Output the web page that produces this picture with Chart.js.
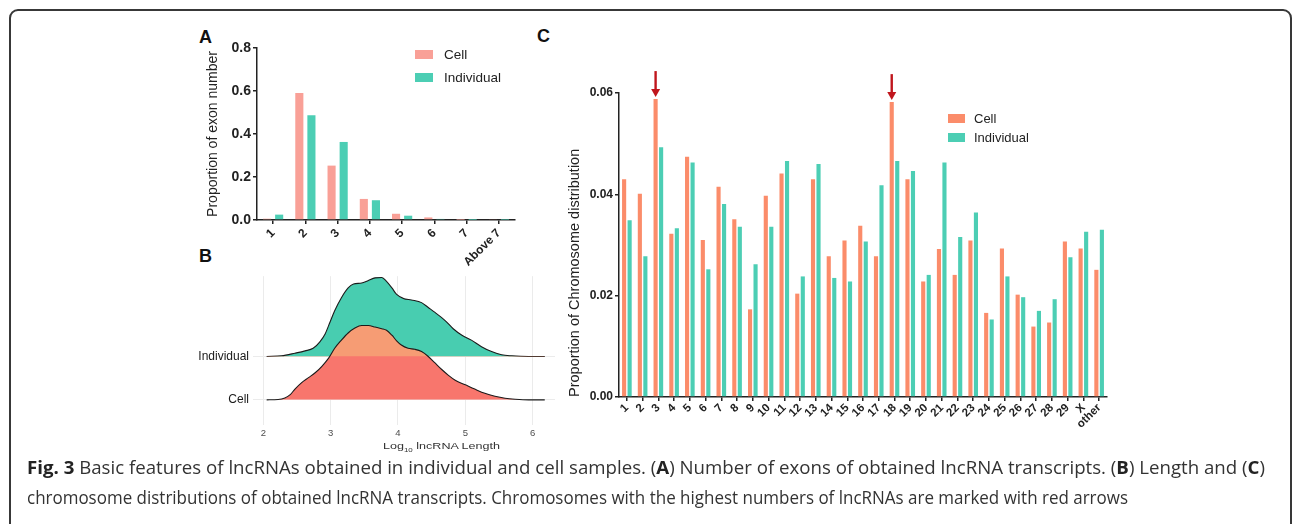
<!DOCTYPE html>
<html><head><meta charset="utf-8">
<script src="https://cdn.jsdelivr.net/npm/chart.js@4/dist/chart.umd.min.js"></script>
<style>
html,body{margin:0;padding:0;background:#fff;width:1292px;height:524px;overflow:hidden;font-family:"Liberation Sans",Arial,sans-serif;}
canvas{position:absolute;}
.frame{position:absolute;left:9px;top:9px;width:1283px;height:700px;border:2px solid #383838;border-radius:9px;box-sizing:border-box;}
.plabel{position:absolute;font:bold 18px "Liberation Sans",Arial,sans-serif;color:#111;line-height:20px;}
.cap{position:absolute;left:27px;font-family:"Open Sans",sans-serif;font-size:18.5px;color:#333;white-space:nowrap;transform-origin:0 0;line-height:24px;}
.cap b{color:#222;}
.fit{position:absolute;white-space:nowrap;transform-origin:0 0;}
.btitle{left:383px;top:440px;font:9.5px "Liberation Sans",Arial,sans-serif;color:#333;}
.btitle sub{font-size:6px;}
</style></head><body>
<div class="frame"></div>
<div class="plabel" style="left:199px;top:27px">A</div>
<div class="plabel" style="left:199px;top:246px">B</div>
<div class="plabel" style="left:537px;top:26px">C</div>
<canvas id="cA" width="340" height="245" style="left:195px;top:25px;width:340px;height:245px"></canvas>
<canvas id="cB" width="360" height="190" style="left:195px;top:265px;width:360px;height:190px"></canvas>
<canvas id="cC" width="558" height="380" style="left:562px;top:60px;width:558px;height:380px"></canvas>
<div class="fit btitle" data-w="117">Log<sub>10</sub> lncRNA Length</div>
<div class="cap fit" data-w="1238" style="top:455px"><b>Fig. 3</b> Basic features of lncRNAs obtained in individual and cell samples. (<b>A</b>) Number of exons of obtained lncRNA transcripts. (<b>B</b>) Length and (<b>C</b>)</div>
<div class="cap fit" data-w="1101" style="top:485px">chromosome distributions of obtained lncRNA transcripts. Chromosomes with the highest numbers of lncRNAs are marked with red arrows</div>
<script>
// ---------- DATA ----------
// Panel A: exon number
const exonCats = ['1','2','3','4','5','6','7','Above 7'];
const exonCell = [0.006,0.591,0.253,0.098,0.029,0.012,0.001,0.003];
const exonInd  = [0.025,0.487,0.363,0.092,0.020,0.005,0.0005,0.001];
const exonTicks = [0,0.2,0.4,0.6,0.8];

// Panel B: length density (ridgeline)
const ridgeNames = ['Cell','Individual'];
const indX = [2.05,2.27,2.47,2.62,2.74,2.84,2.92,2.99,3.06,3.16,3.26,3.34,3.46,3.56,3.66,3.76,3.83,3.91,3.98,4.08,4.20,4.35,4.45,4.55,4.70,4.82,4.95,5.09,5.24,5.39,5.54,5.69,5.94,6.18];
const indH = [0,0.015,0.075,0.128,0.188,0.338,0.526,0.789,1.053,1.353,1.579,1.669,1.692,1.752,1.812,1.820,1.729,1.579,1.429,1.338,1.301,1.241,1.128,1.015,0.827,0.639,0.489,0.376,0.226,0.113,0.038,0.015,0,0];
const cellX = [2.05,2.22,2.32,2.40,2.47,2.57,2.67,2.77,2.87,2.97,3.06,3.16,3.26,3.36,3.46,3.56,3.66,3.76,3.83,3.91,3.98,4.05,4.15,4.25,4.35,4.45,4.55,4.65,4.75,4.85,5.00,5.14,5.29,5.44,5.59,5.74,5.94,6.18];
const cellH = [0,0.008,0.045,0.120,0.248,0.398,0.511,0.624,0.774,0.962,1.188,1.376,1.541,1.654,1.714,1.714,1.677,1.639,1.602,1.489,1.361,1.263,1.188,1.165,1.113,1.000,0.850,0.699,0.564,0.451,0.346,0.248,0.150,0.083,0.038,0.015,0,0];
const lenTicks = [2,3,4,5,6];

// Panel C: chromosome distribution
const chromCats = ['1','2','3','4','5','6','7','8','9','10','11','12','13','14','15','16','17','18','19','20','21','22','23','24','25','26','27','28','29','X','other'];
const chromCell = [0.0430,0.0401,0.0588,0.0322,0.0474,0.0310,0.0415,0.0351,0.0173,0.0397,0.0441,0.0204,0.0430,0.0278,0.0309,0.0338,0.0278,0.0582,0.0430,0.0228,0.0292,0.0241,0.0309,0.0166,0.0293,0.0202,0.0139,0.0147,0.0307,0.0293,0.0251];
const chromInd  = [0.0349,0.0278,0.0493,0.0333,0.0463,0.0252,0.0381,0.0336,0.0262,0.0336,0.0466,0.0238,0.0460,0.0235,0.0228,0.0307,0.0418,0.0466,0.0446,0.0241,0.0463,0.0316,0.0364,0.0153,0.0238,0.0197,0.0170,0.0193,0.0276,0.0326,0.0330];
const chromTicks = [0,0.02,0.04,0.06];
const arrowCats = ['3','18'];

// ---------- HELPERS ----------
const FONT = '"Liberation Sans", Arial, sans-serif';
const INK = '#222';
function legendPlugin(pos){
  return {id:'lg', afterDraw(chart){
    const ctx = chart.ctx;
    chart.data.datasets.forEach((ds,i)=>{
      const p = pos[i];
      ctx.save();
      ctx.fillStyle = ds.backgroundColor;
      ctx.fillRect(p.x,p.y,p.w,p.h);
      ctx.fillStyle = INK;
      ctx.font = p.font;
      ctx.textBaseline = 'middle';
      ctx.fillText(ds.label, p.tx, p.y + p.h/2 + 0.5);
      ctx.restore();
    });
  }};
}
function fixW(w){return s=>{s.width=w;};}
function fixH(h){return s=>{s.height=h;};}

// ---------- PANEL A ----------
new Chart(document.getElementById('cA'), {
  type:'bar',
  data:{labels:exonCats, datasets:[
    {label:'Cell', data:exonCell, backgroundColor:'#F9A097', categoryPercentage:0.75, barPercentage:0.67},
    {label:'Individual', data:exonInd, backgroundColor:'#4CCEB4', categoryPercentage:0.75, barPercentage:0.67}
  ]},
  options:{
    responsive:false, animation:false,
    layout:{padding:{top:23,right:20,left:0,bottom:0}},
    plugins:{legend:{display:false}, tooltip:{enabled:false}},
    scales:{
      x:{
        grid:{display:true, drawOnChartArea:false, drawTicks:true, tickLength:4, offset:false, color:INK, lineWidth:1.5},
        border:{display:true, color:INK, width:1.5},
        ticks:{autoSkip:false, maxRotation:45, minRotation:45, padding:2, color:INK, font:{family:FONT, size:12, weight:'bold'}},
        afterFit:fixH(50)
      },
      y:{
        min:0, max:0.8,
        afterBuildTicks:s=>{s.ticks = exonTicks.map(v=>({value:v}));},
        grid:{display:true, drawOnChartArea:false, drawTicks:true, tickLength:4, color:INK, lineWidth:1.5},
        border:{display:true, color:INK, width:1.5},
        ticks:{padding:2, color:INK, font:{family:FONT, size:14, weight:'bold'}, callback:v=>v.toFixed(1)},
        title:{display:true, text:'Proportion of exon number', color:INK, font:{family:FONT, size:14}, padding:{top:10,bottom:2}},
        afterFit:fixW(62)
      }
    }
  },
  plugins:[legendPlugin([
    {x:220,y:25,w:18,h:9,tx:249,font:'13.5px '+FONT},
    {x:220,y:48,w:18,h:9,tx:249,font:'13.5px '+FONT}
  ])]
});

// ---------- PANEL B ----------
const ridgeBase = {Cell:0, Individual:1};
const cellPts = cellX.map((x,i)=>({x, y:ridgeBase.Cell + cellH[i]}));
const indPts  = indX.map((x,i)=>({x, y:ridgeBase.Individual + indH[i]}));
new Chart(document.getElementById('cB'), {
  type:'line',
  data:{datasets:[
    {label:'Cell', data:cellPts, borderColor:'#1b1b1b', borderWidth:1.1, pointRadius:0, cubicInterpolationMode:'monotone',
      fill:{target:{value:1}, above:'#F69C74', below:'rgba(0,0,0,0)'}},
    {label:'Cell fill', data:cellPts, borderWidth:0, borderColor:'rgba(0,0,0,0)', pointRadius:0, cubicInterpolationMode:'monotone',
      fill:{target:{value:0}, above:'#F8766D', below:'rgba(0,0,0,0)'}},
    {label:'Individual', data:indPts, borderColor:'#1b1b1b', borderWidth:1.1, pointRadius:0, cubicInterpolationMode:'monotone',
      fill:{target:{value:1}, above:'#48CDB0', below:'rgba(0,0,0,0)'}}
  ]},
  options:{
    responsive:false, animation:false,
    layout:{padding:{top:8,right:0,left:0,bottom:0}},
    plugins:{legend:{display:false}, tooltip:{enabled:false}},
    scales:{
      x:{
        type:'linear', min:1.847, max:6.332,
        afterBuildTicks:s=>{s.ticks = lenTicks.map(v=>({value:v}));},
        grid:{color:'#EBEBEB', lineWidth:1, drawTicks:false},
        border:{display:false},
        ticks:{padding:3, color:'#4D4D4D', font:{family:FONT, size:9.5}, callback:v=>String(v)},
        afterFit:fixH(30)
      },
      y:{
        type:'linear', min:-0.58, max:2.85,
        afterBuildTicks:s=>{s.ticks = ridgeNames.map(n=>({value:ridgeBase[n]}));},
        grid:{color:'#EBEBEB', lineWidth:1, drawTicks:false},
        border:{display:false},
        ticks:{padding:4, color:'#1a1a1a', font:{family:FONT, size:12}, callback:v=>ridgeNames.find(n=>ridgeBase[n]===v)},
        afterFit:fixW(58)
      }
    }
  }
});

// ---------- PANEL C ----------
const arrowPlugin = {id:'arrows', afterDatasetsDraw(chart){
  const meta = chart.getDatasetMeta(0), ctx = chart.ctx;
  arrowCats.forEach(c=>{
    const el = meta.data[chromCats.indexOf(c)];
    const x = el.x, tip = el.y - 2, top = el.y - 28;
    ctx.save();
    ctx.strokeStyle = ctx.fillStyle = '#C0161D';
    ctx.lineWidth = 2.4;
    ctx.beginPath(); ctx.moveTo(x, top); ctx.lineTo(x, tip - 6); ctx.stroke();
    ctx.beginPath(); ctx.moveTo(x - 4.5, tip - 8); ctx.lineTo(x + 4.5, tip - 8); ctx.lineTo(x, tip); ctx.closePath(); ctx.fill();
    ctx.restore();
  });
}};
new Chart(document.getElementById('cC'), {
  type:'bar',
  data:{labels:chromCats, datasets:[
    {label:'Cell', data:chromCell, backgroundColor:'#FB8C6A', categoryPercentage:0.7, barPercentage:0.75},
    {label:'Individual', data:chromInd, backgroundColor:'#4CCEB4', categoryPercentage:0.7, barPercentage:0.75}
  ]},
  options:{
    responsive:false, animation:false,
    layout:{padding:{top:33,right:13,left:0,bottom:0}},
    plugins:{legend:{display:false}, tooltip:{enabled:false}},
    scales:{
      x:{
        grid:{display:true, drawOnChartArea:false, drawTicks:true, tickLength:4, offset:false, color:INK, lineWidth:1.5},
        border:{display:true, color:INK, width:1.5},
        ticks:{autoSkip:false, maxRotation:45, minRotation:45, padding:0, color:INK, font:{family:FONT, size:11.5, weight:'bold'}},
        afterFit:fixH(43)
      },
      y:{
        min:0, max:0.06,
        afterBuildTicks:s=>{s.ticks = chromTicks.map(v=>({value:v}));},
        grid:{display:true, drawOnChartArea:false, drawTicks:true, tickLength:4, color:INK, lineWidth:1.5},
        border:{display:true, color:INK, width:1.5},
        ticks:{padding:2, color:INK, font:{family:FONT, size:12, weight:'bold'}, callback:v=>v.toFixed(2)},
        title:{display:true, align:'start', text:'Proportion of Chromosome distribution', color:INK, font:{family:FONT, size:14.5}, padding:{top:4,bottom:2}},
        afterFit:fixW(57)
      }
    }
  },
  plugins:[arrowPlugin, legendPlugin([
    {x:386,y:54,w:17,h:9,tx:412,font:'13px '+FONT},
    {x:386,y:73,w:17,h:9,tx:412,font:'13px '+FONT}
  ])]
});

// ---------- text width fit ----------
document.querySelectorAll('.fit').forEach(el=>{
  const w = el.getBoundingClientRect().width;
  el.style.transform = 'scaleX(' + (+el.dataset.w / w) + ')';
});
</script>
</body></html>
